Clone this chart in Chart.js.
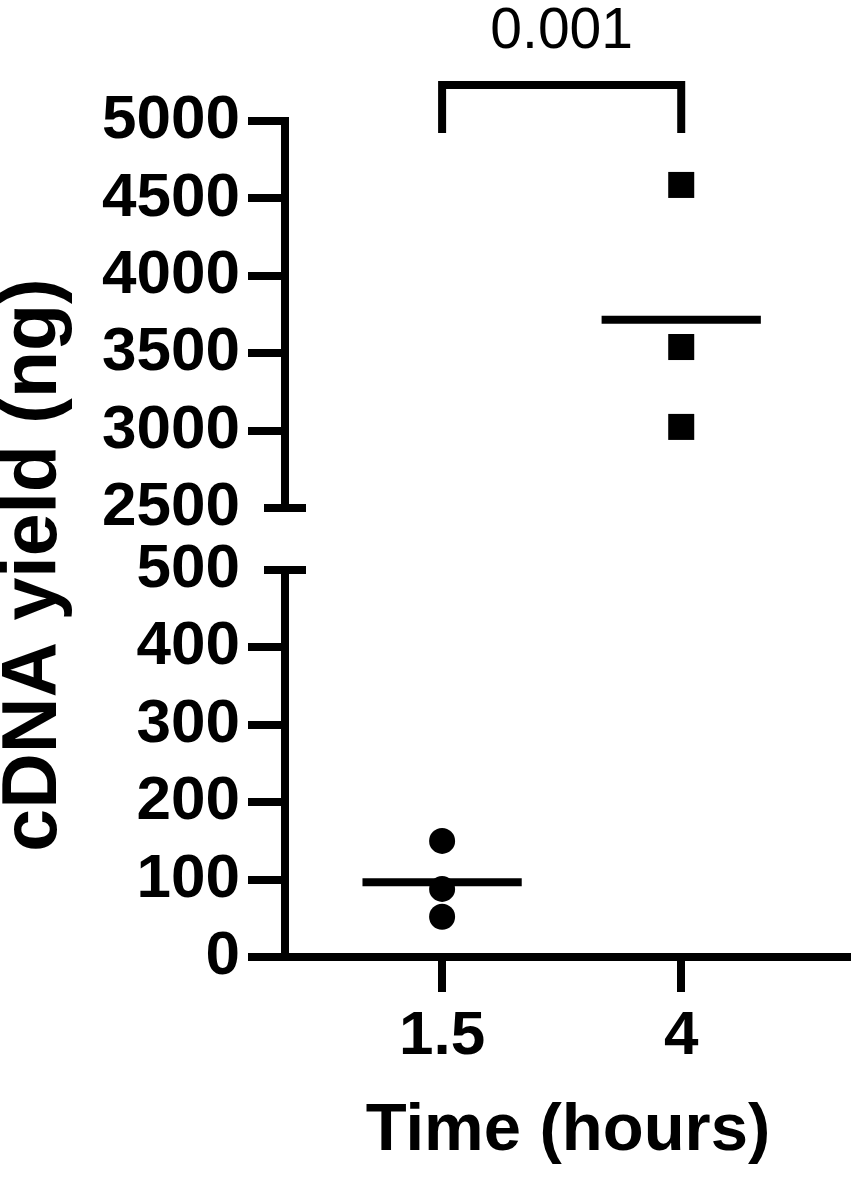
<!DOCTYPE html>
<html lang="en">
<head>
<meta charset="UTF-8">
<title>cDNA yield</title>
<script src="https://cdn.jsdelivr.net/npm/chart.js"></script>
<style>
  html, body { margin: 0; padding: 0; background: #fff; overflow: hidden; }
  #chart { display: block; }
</style>
</head>
<body>
<canvas id="chart" width="851" height="1179"></canvas>
<script>
// data
const groups = ['1.5', '4'];              // time (hours)
const yield15 = [150, 88, 52];            // cDNA yield (ng), 1.5 h
const yield4 = [4587, 3540, 3024];        // cDNA yield (ng), 4 h
const lowTicks = [0, 100, 200, 300, 400, 500];
const highTicks = [2500, 3000, 3500, 4000, 4500, 5000];
const pValue = '0.001';
const yTitle = 'cDNA yield (ng)';

// broken axis: 0-500 drawn 1:1, then a gap, then 2500-5000 compressed 5x
const GAP = 80;
function toPlot(v) {
  return v <= 500 ? v : 500 + GAP + (v - 2500) / 5;
}
function fromPlot(p) {
  return p <= 500 ? p : 2500 + (p - 500 - GAP) * 5;
}
const mean = arr => arr.reduce((a, b) => a + b, 0) / arr.length;
const halfBar = 0.333;

const tickVals = lowTicks.concat(highTicks).map(toPlot);
const breakVals = [toPlot(500), toPlot(2500)];

const FONT = '"Liberation Sans", Arial, sans-serif';
Chart.defaults.font.family = FONT;
Chart.defaults.color = '#000';

const brokenAxis = {
  id: 'brokenAxis',
  afterDraw(chart) {
    const { ctx, chartArea, scales: { x, y } } = chart;
    const ax = chartArea.left;
    ctx.save();
    ctx.strokeStyle = '#000';
    ctx.fillStyle = '#000';
    ctx.lineWidth = 8;
    ctx.lineCap = 'butt';
    ctx.lineJoin = 'miter';

    function seg(x1, y1, x2, y2) {
      ctx.beginPath();
      ctx.moveTo(x1, y1);
      ctx.lineTo(x2, y2);
      ctx.stroke();
    }
    // upper and lower pieces of the y axis
    seg(ax, y.getPixelForValue(toPlot(5000)) - 4, ax, y.getPixelForValue(toPlot(2500)));
    seg(ax, y.getPixelForValue(toPlot(500)), ax, y.getPixelForValue(0) + 4);
    // the two ticks at the break go across the axis
    breakVals.forEach(v => {
      const yy = y.getPixelForValue(v);
      seg(ax - 21, yy, ax + 21, yy);
    });

    // significance bracket
    const x1 = x.getPixelForValue(1);
    const x2 = x.getPixelForValue(2);
    const top = chartArea.top - 36;
    const legEnd = chartArea.top + 12;
    ctx.beginPath();
    ctx.moveTo(x1, legEnd);
    ctx.lineTo(x1, top);
    ctx.lineTo(x2, top);
    ctx.lineTo(x2, legEnd);
    ctx.stroke();

    ctx.font = '57px ' + FONT;
    ctx.textAlign = 'center';
    ctx.textBaseline = 'alphabetic';
    ctx.fillText(pValue, (x1 + x2) / 2, chartArea.top - 73);

    // y axis title, a bit below the middle of the axis like the original
    const yc = (chartArea.top + chartArea.bottom) / 2 + 26;
    ctx.translate(56, yc);
    ctx.rotate(-Math.PI / 2);
    ctx.font = 'bold 77px ' + FONT;
    ctx.fillText(yTitle, 0, 0);
    ctx.restore();
  }
};

const ctx = document.getElementById('chart').getContext('2d');
const chart = new Chart(ctx, {
  type: 'scatter',
  data: {
    datasets: [
      {
        label: groups[0],
        data: yield15.map(v => ({ x: 1, y: toPlot(v) })),
        pointStyle: 'circle',
        pointRadius: 13,
        backgroundColor: '#000',
        borderColor: '#000',
        borderWidth: 0
      },
      {
        label: groups[1],
        data: yield4.map(v => ({ x: 2, y: toPlot(v) })),
        pointStyle: 'rect',
        pointRadius: 18.4,
        backgroundColor: '#000',
        borderColor: '#000',
        borderWidth: 0
      },
      {
        label: 'mean ' + groups[0],
        data: [{ x: 1 - halfBar, y: toPlot(mean(yield15)) }, { x: 1 + halfBar, y: toPlot(mean(yield15)) }],
        showLine: true,
        borderColor: '#000',
        borderWidth: 8,
        pointRadius: 0
      },
      {
        label: 'mean ' + groups[1],
        data: [{ x: 2 - halfBar, y: toPlot(mean(yield4)) }, { x: 2 + halfBar, y: toPlot(mean(yield4)) }],
        showLine: true,
        borderColor: '#000',
        borderWidth: 8,
        pointRadius: 0
      }
    ]
  },
  options: {
    responsive: false,
    animation: false,
    layout: { autoPadding: false, padding: { top: 121, right: 0, bottom: 0, left: 0 } },
    plugins: {
      legend: { display: false },
      tooltip: { enabled: false }
    },
    scales: {
      x: {
        type: 'linear',
        min: 0.343,
        max: 2.71,
        afterBuildTicks: s => { s.ticks = [{ value: 1 }, { value: 2 }]; },
        afterFit: s => { s.height = 222; },
        border: { display: true, color: '#000', width: 8 },
        grid: {
          drawOnChartArea: false,
          drawTicks: true,
          tickLength: 35,
          lineWidth: 8,
          tickColor: '#000'
        },
        ticks: {
          autoSkip: false,
          padding: 8,
          font: { size: 62, weight: 'bold', lineHeight: 1.2 },
          callback: v => groups[v - 1]
        },
        title: {
          display: true,
          text: 'Time (hours)',
          font: { size: 67, weight: 'bold', lineHeight: 1 },
          padding: { top: 0, bottom: 14 }
        }
      },
      y: {
        type: 'linear',
        min: 0,
        max: toPlot(5000),
        afterBuildTicks: s => { s.ticks = tickVals.map(v => ({ value: v })); },
        afterFit: s => { s.width = 285; },
        border: { display: false },
        grid: {
          drawOnChartArea: false,
          drawTicks: true,
          tickLength: 37,
          lineWidth: 8,
          tickColor: c => (c.tick && breakVals.includes(c.tick.value)) ? 'rgba(0,0,0,0)' : '#000'
        },
        ticks: {
          autoSkip: false,
          padding: 8,
          font: { size: 62, weight: 'bold', lineHeight: 1.2 },
          callback: v => String(Math.round(fromPlot(v)))
        },
        title: { display: false }
      }
    }
  },
  plugins: [brokenAxis]
});
</script>
</body>
</html>
